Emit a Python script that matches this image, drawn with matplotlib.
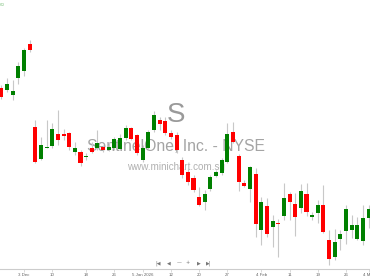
import matplotlib
matplotlib.use("Agg")
import matplotlib.pyplot as plt
import numpy as np

plt.rcParams['font.family'] = ['Liberation Sans', 'DejaVu Sans']

# trading-day index (0 = 3 Dec 2025)
day_index = list(range(-4, 62))

opens = [17.36, 17.30, 17.15, 17.66, 17.87, 18.68, 16.19, 15.23, 15.57, 15.62,
         15.98, 15.98, 16.01, 15.44, 15.44, 15.28, 15.56, 15.56, 15.59, 15.50,
         15.56, 15.53, 15.86, 16.16, 15.95, 15.20, 15.56, 16.10, 16.40, 16.37,
         16.01, 15.95, 15.20, 14.84, 14.66, 14.09, 13.94, 14.33, 14.72, 14.81,
         15.14, 16.04, 15.32, 14.51, 14.33, 14.78, 13.10, 13.82, 13.19, 13.31,
         13.52, 14.18, 13.88, 13.76, 14.18, 13.49, 13.61, 13.85, 12.80, 12.29,
         12.83, 13.07, 13.10, 12.83, 12.77, 13.46]
highs = [17.45, 17.66, 17.60, 18.14, 18.56, 18.80, 16.40, 15.89, 16.40, 16.31,
         16.70, 16.13, 16.04, 15.74, 15.50, 15.41, 15.74, 16.10, 15.65, 15.74,
         15.89, 15.98, 16.25, 16.19, 15.98, 15.65, 16.10, 16.67, 16.49, 16.49,
         16.10, 16.04, 15.29, 14.96, 14.75, 14.39, 14.30, 14.75, 14.90, 15.26,
         16.31, 16.34, 15.38, 14.60, 15.02, 14.96, 14.09, 14.06, 13.55, 13.43,
         14.51, 14.24, 14.21, 14.48, 14.51, 13.64, 14.00, 14.45, 13.10, 13.13,
         13.10, 13.85, 13.55, 13.49, 13.85, 13.85]
lows = [17.03, 17.24, 17.00, 17.48, 17.72, 18.44, 15.11, 15.20, 15.56, 15.56,
        15.65, 15.80, 15.50, 15.35, 15.02, 15.20, 15.41, 15.50, 15.44, 15.47,
        15.50, 15.50, 15.80, 15.80, 15.35, 15.14, 15.50, 16.04, 16.10, 15.95,
        15.83, 15.41, 14.66, 14.45, 14.24, 13.82, 13.70, 14.27, 14.69, 14.75,
        15.11, 15.71, 14.27, 14.39, 13.94, 12.89, 12.65, 12.89, 12.59, 12.29,
        13.40, 13.40, 12.92, 13.61, 13.52, 13.40, 13.31, 13.01, 12.05, 12.20,
        12.50, 12.68, 12.86, 12.80, 12.65, 13.16]
closes = [17.09, 17.48, 17.27, 18.02, 18.50, 18.50, 15.14, 15.65, 15.59, 16.13,
          15.80, 15.92, 15.59, 15.56, 15.11, 15.31, 15.44, 15.71, 15.50, 15.59,
          15.83, 15.86, 16.16, 15.83, 15.41, 15.56, 16.04, 16.55, 16.28, 16.01,
          15.89, 15.50, 14.75, 14.54, 14.30, 13.85, 14.18, 14.69, 14.84, 15.20,
          15.98, 15.74, 14.54, 14.42, 14.99, 13.28, 13.94, 12.98, 13.37, 13.27,
          14.06, 13.94, 13.49, 14.27, 13.64, 13.55, 13.85, 13.04, 12.23, 12.74,
          12.98, 13.73, 13.25, 13.25, 13.46, 13.73]

tick_days = [0, 5, 11, 16, 21, 26, 31, 36, 42, 47, 52, 57, 61]
tick_labels = ["3 Dec", "10", "18", "26", "5 Jan 2026", "12", "20", "27",
               "4 Feb", "11", "19", "26", "4 Mar"]

title_text = "SentinelOne, Inc. - NYSE"
symbol_text = "S"
url_text = "www.minichart.com.sg"

W, H = 370, 278
fig = plt.figure(figsize=(W / 100, H / 100), dpi=100)
ax = fig.add_axes([0, 9 / H, 1, 1 - 9 / H])

x = np.array(day_index, dtype=float)
o = np.array(opens); h = np.array(highs); l = np.array(lows); c = np.array(closes)
up = c >= o

# watermark texts (behind candles)
ax.text(0.476, 0.572, symbol_text, transform=ax.transAxes, fontsize=20,
        color='#9a9a9a', ha='center', va='center', zorder=0)
ax.text(0.476, 0.457, title_text, transform=ax.transAxes, fontsize=11.3,
        color='#a4a4a4', ha='center', va='center', zorder=0)
ax.text(0.476, 0.379, url_text, transform=ax.transAxes, fontsize=7.1,
        color='#b0b0b0', ha='center', va='center', zorder=0)

ax.vlines(x, l, h, color='#c8c8c8', lw=0.8, zorder=1)
body_h = np.maximum(np.abs(c - o), 0.03)
ax.bar(x, body_h, bottom=np.minimum(o, c), width=0.72,
       color=np.where(up, '#008000', '#ff0000'), linewidth=0, zorder=2)

ax.set_xlim(-24 / 5.65, (370 - 24) / 5.65)
ax.set_ylim(11.93, 20.0)

for s in ['top', 'left', 'right']:
    ax.spines[s].set_visible(False)
ax.spines['bottom'].set_color('#cccccc')
ax.spines['bottom'].set_linewidth(0.8)
ax.set_yticks([])
ax.set_xticks(tick_days)
ax.set_xticklabels(tick_labels, fontsize=3.2, color='#666666')
ax.tick_params(axis='x', length=2, width=0.5, color='#cccccc', pad=1)

# navigation buttons
nav = ["|◀", "◀", "—", "+", "▶", "▶|"]
nav_x = [158, 169, 179, 188, 199, 209]
for t, px in zip(nav, nav_x):
    ax.text(px / W, (269 - 263) / 269, t, transform=ax.transAxes, fontsize=3.5,
            color='#777777', ha='center', va='center',
            family=['DejaVu Sans'])

# cut-off price label top-left
ax.text(0.0, 1 - 5.5 / 269, "60", transform=ax.transAxes, fontsize=3.2,
        color='#7fc27f', ha='left', va='center')

fig.savefig("out.png", dpi=100)
